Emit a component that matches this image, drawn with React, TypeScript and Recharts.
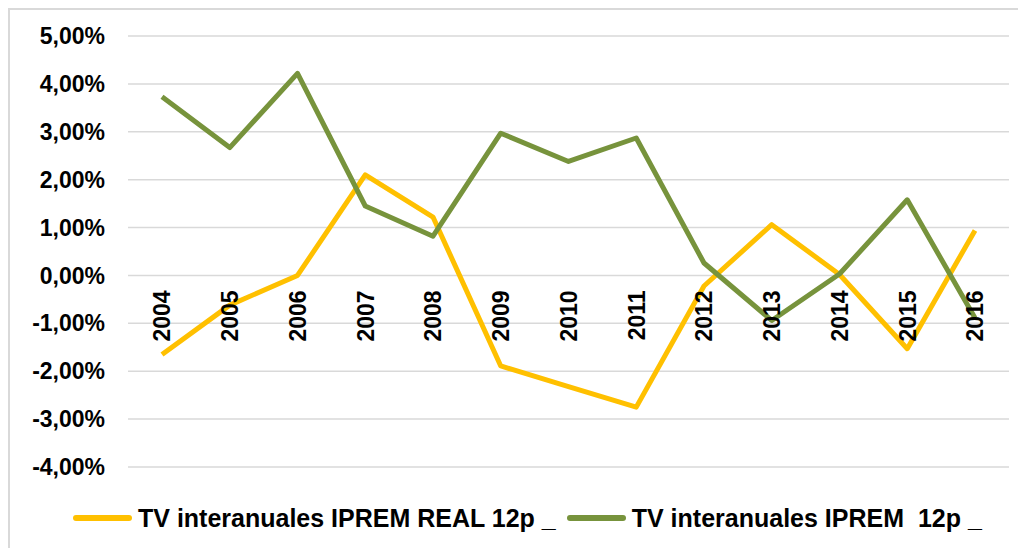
import React from 'react';
import { LineChart, Line, XAxis, YAxis, CartesianGrid, Legend } from 'recharts';

const years = ['2004', '2005', '2006', '2007', '2008', '2009', '2010', '2011', '2012', '2013', '2014', '2015', '2016'];
const realValues = [-1.65, -0.62, 0.0, 2.1, 1.22, -1.89, -2.32, -2.75, -0.22, 1.06, 0.02, -1.53, 0.94];
const nominalValues = [3.73, 2.67, 4.22, 1.45, 0.82, 2.97, 2.38, 2.87, 0.26, -0.94, 0.03, 1.58, -0.89];
const yTicks = [-4, -3, -2, -1, 0, 1, 2, 3, 4, 5];
const seriesNames = ['TV interanuales IPREM REAL 12p _', 'TV interanuales IPREM  12p _'];
const seriesColors = ['#FFC000', '#77933C'];

const data = years.map((y, i) => ({ year: y, real: realValues[i], nominal: nominalValues[i] }));

const CHART_W = 1016;
const CHART_H = 538;
const MARGIN = { top: 26, right: 17, left: 0, bottom: 10 };
const Y_AXIS_W = 118;
const X_AXIS_H = 31;
const LEGEND_H = 40;
const Y_MIN = yTicks[0];
const Y_MAX = yTicks[yTicks.length - 1];
const PLOT_TOP = MARGIN.top;
const PLOT_H = CHART_H - MARGIN.top - MARGIN.bottom - LEGEND_H - X_AXIS_H;
const ZERO_Y = PLOT_TOP + (PLOT_H * Y_MAX) / (Y_MAX - Y_MIN);

const FONT = '"Liberation Sans", Arial, sans-serif';

const fmt = (v: number) => `${v.toFixed(2).replace('.', ',')}%`;

function XTick(props: any) {
  const { x, payload } = props;
  const y0 = ZERO_Y + 15;
  return (
    <text
      x={x}
      y={y0}
      dy="0.36em"
      textAnchor="end"
      transform={`rotate(-90, ${x}, ${y0})`}
      fontFamily={FONT}
      fontWeight="bold"
      fontSize={23}
      fill="#000"
    >
      {payload.value}
    </text>
  );
}

function LegendContent() {
  return (
    <div
      style={{
        height: LEGEND_H,
        display: 'flex',
        alignItems: 'center',
        paddingLeft: 63,
        fontFamily: FONT,
        fontWeight: 'bold',
        fontSize: 25,
        color: '#000',
        whiteSpace: 'pre',
      }}
    >
      {seriesNames.map((name, i) => (
        <div key={name} style={{ display: 'flex', alignItems: 'center', marginRight: 11 }}>
          <svg width={59} height={10} style={{ marginRight: 6 }}>
            <line x1={3} y1={5} x2={56} y2={5} stroke={seriesColors[i]} strokeWidth={6} strokeLinecap="round" />
          </svg>
          <span>{name}</span>
        </div>
      ))}
    </div>
  );
}

export default function App() {
  return (
    <div>
      <style>{`body{overflow:hidden;}`}</style>
      <div
        style={{
          width: 1018,
          height: 540,
          borderTop: '2px solid #d9d9d9',
          borderLeft: '2px solid #d9d9d9',
          boxSizing: 'border-box',
          background: '#fff',
        }}
      >
        <LineChart width={CHART_W} height={CHART_H} data={data} margin={MARGIN}>
          <CartesianGrid vertical={false} stroke="#d9d9d9" strokeWidth={1.5} />
          <XAxis
            dataKey="year"
            axisLine={false}
            tickLine={false}
            height={X_AXIS_H}
            padding={{ left: 34, right: 34 }}
            interval={0}
            tick={<XTick />}
          />
          <YAxis
            width={Y_AXIS_W}
            domain={[Y_MIN, Y_MAX]}
            ticks={yTicks}
            axisLine={false}
            tickLine={false}
            tickSize={0}
            tickMargin={23}
            tickFormatter={fmt}
            tick={{ fontFamily: FONT, fontWeight: 'bold', fontSize: 23, fill: '#000' }}
          />
          <Legend verticalAlign="bottom" height={LEGEND_H} content={<LegendContent />} />
          <Line
            type="linear"
            dataKey="real"
            name={seriesNames[0]}
            stroke={seriesColors[0]}
            strokeWidth={5}
            strokeLinejoin="round"
            dot={false}
            isAnimationActive={false}
          />
          <Line
            type="linear"
            dataKey="nominal"
            name={seriesNames[1]}
            stroke={seriesColors[1]}
            strokeWidth={5}
            strokeLinejoin="round"
            dot={false}
            isAnimationActive={false}
          />
        </LineChart>
      </div>
    </div>
  );
}
